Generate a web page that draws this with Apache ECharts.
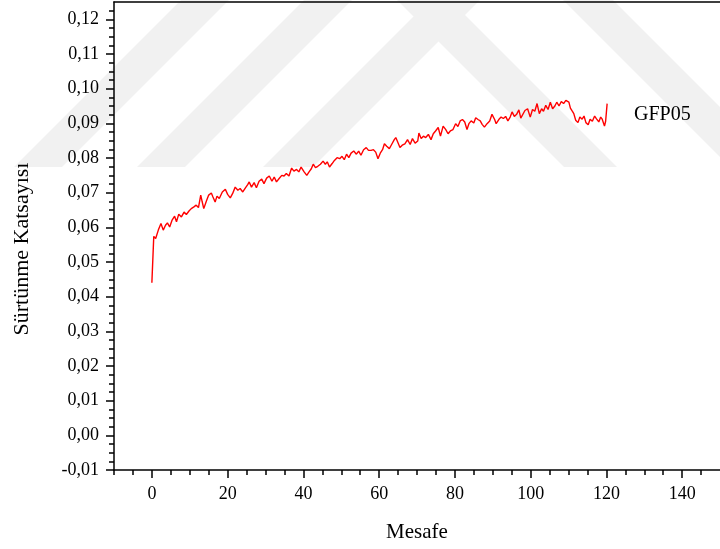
<!DOCTYPE html>
<html>
<head>
<meta charset="utf-8">
<script src="https://cdn.jsdelivr.net/npm/echarts@6/dist/echarts.min.js"></script>
<style>
  html, body { margin: 0; padding: 0; background: #fff; }
  #chart { width: 720px; height: 549px; }
</style>
</head>
<body>
<div id="chart"></div>
<script>
// Sliding distance (Mesafe) and friction coefficient (Sürtünme Katsayısı) for GFP05
const mesafe = [
  0, 0.5, 1.0, 1.7, 2.4, 3.0, 3.6, 4.1, 4.7, 5.3, 6.0, 6.5, 7.1, 7.8, 8.5, 9.1, 9.8,
  10.4, 11.1, 11.7, 12.3, 12.9, 13.3, 13.7, 14.4, 15.0, 15.7, 16.1, 16.7, 17.2, 17.8,
  18.6, 19.4, 20.0, 20.7, 21.3, 22.0, 22.7, 23.3, 24.0, 24.7, 25.3, 25.7, 26.3, 27.0,
  27.6, 28.3, 29.0, 29.6, 30.3, 31.0, 31.7, 32.3, 32.9, 33.6, 34.3, 34.9, 35.5, 36.2,
  36.9, 37.5, 38.2, 38.8, 39.4, 40.2, 40.9, 41.5, 42.1, 42.6, 43.2, 43.8, 44.5, 45.2,
  45.8, 46.3, 46.9, 47.6, 48.2, 48.9, 49.6, 50.2, 50.8, 51.4, 52.0, 52.6, 53.3, 54.0,
  54.6, 55.2, 55.9, 56.6, 57.2, 57.9, 58.5, 59.1, 59.7, 60.3, 60.9, 61.4, 62.0, 62.7,
  63.3, 64.0, 64.4, 64.9, 65.5, 66.1, 66.8, 67.5, 68.2, 68.8, 69.5, 70.2, 70.5, 71.1,
  71.7, 72.3, 73.0, 73.7, 74.3, 74.9, 75.6, 76.2, 76.9, 77.6, 78.2, 78.8, 79.5, 80.2,
  80.8, 81.4, 82.0, 82.6, 83.2, 83.7, 84.3, 85.0, 85.5, 86.1, 86.7, 87.2, 87.8, 88.5,
  89.2, 89.8, 90.5, 90.9, 91.6, 92.2, 92.8, 93.4, 94.0, 94.6, 95.1, 95.7, 96.3, 96.9,
  97.4, 97.9, 98.5, 99.2, 99.9, 100.5, 101.1, 101.7, 102.3, 102.9, 103.4, 104.0, 104.6,
  105.2, 105.8, 106.4, 106.9, 107.5, 108.1, 108.7, 109.3, 109.7, 110.1, 110.5, 111.0,
  111.4, 111.9, 112.5, 113.0, 113.6, 114.1, 114.6, 115.2, 115.7, 116.3, 116.9, 117.4,
  118.0, 118.5, 118.9, 119.5, 119.8, 120.2
];
const katsayi = [
  0.0440, 0.0574, 0.0568, 0.0592, 0.0611, 0.0592, 0.0606, 0.0613, 0.0601, 0.0620, 0.0632, 0.0616, 0.0638, 0.0630, 0.0644, 0.0637, 0.0647,
  0.0654, 0.0659, 0.0664, 0.0657, 0.0693, 0.0673, 0.0654, 0.0676, 0.0693, 0.0699, 0.0688, 0.0673, 0.0690, 0.0683,
  0.0702, 0.0710, 0.0695, 0.0685, 0.0697, 0.0716, 0.0707, 0.0712, 0.0702, 0.0714, 0.0723, 0.0731, 0.0716, 0.0729,
  0.0714, 0.0733, 0.0739, 0.0726, 0.0742, 0.0748, 0.0733, 0.0745, 0.0731, 0.0741, 0.0750, 0.0748, 0.0755, 0.0748,
  0.0771, 0.0762, 0.0767, 0.0760, 0.0774, 0.0760, 0.0750, 0.0760, 0.0769, 0.0782, 0.0772, 0.0776, 0.0782, 0.0791,
  0.0782, 0.0789, 0.0774, 0.0784, 0.0793, 0.0801, 0.0798, 0.0805, 0.0795, 0.0811, 0.0801, 0.0814, 0.0820, 0.0811,
  0.0820, 0.0808, 0.0824, 0.0830, 0.0822, 0.0822, 0.0824, 0.0817, 0.0798, 0.0814, 0.0824, 0.0841, 0.0834, 0.0827,
  0.0839, 0.0853, 0.0859, 0.0846, 0.0830, 0.0837, 0.0841, 0.0853, 0.0839, 0.0856, 0.0843, 0.0849, 0.0872, 0.0856,
  0.0863, 0.0859, 0.0868, 0.0853, 0.0870, 0.0878, 0.0888, 0.0863, 0.0892, 0.0882, 0.0870, 0.0878, 0.0882, 0.0899,
  0.0891, 0.0907, 0.0911, 0.0904, 0.0882, 0.0899, 0.0907, 0.0901, 0.0916, 0.0911, 0.0907, 0.0897, 0.0889, 0.0899,
  0.0907, 0.0926, 0.0911, 0.0899, 0.0911, 0.0918, 0.0914, 0.0920, 0.0907, 0.0918, 0.0933, 0.0920, 0.0926, 0.0939,
  0.0915, 0.0920, 0.0937, 0.0942, 0.0918, 0.0940, 0.0935, 0.0957, 0.0928, 0.0942, 0.0935, 0.0952, 0.0940,
  0.0961, 0.0942, 0.0950, 0.0961, 0.0950, 0.0963, 0.0957, 0.0966, 0.0971, 0.0961, 0.0944, 0.0935,
  0.0928, 0.0909, 0.0902, 0.0918, 0.0912, 0.0921, 0.0902, 0.0896, 0.0912, 0.0906, 0.0921, 0.0913,
  0.0904, 0.0918, 0.0912, 0.0892, 0.0906, 0.0957
];

// Axis ticks
const xMajorTicks = [0, 20, 40, 60, 80, 100, 120, 140];
const yMajorTicks = [-0.01, 0.00, 0.01, 0.02, 0.03, 0.04, 0.05, 0.06, 0.07, 0.08, 0.09, 0.10, 0.11, 0.12];
const X_MIN = -10, X_MAX = 150, Y_MIN = -0.01, Y_MAX = 0.125;

// Minor ticks: every 5 on x, every 0.0025 on y, skipping the major ones
const xMinorTicks = [];
for (let v = X_MIN; v < X_MAX; v += 5) {
  if (xMajorTicks.indexOf(v) < 0) xMinorTicks.push(v);
}
const yMinorTicks = [];
for (let k = -4; k <= 49; k++) {
  if (k % 4 !== 0) yMinorTicks.push(+(k * 0.0025).toFixed(4));
}

const FONT = "'Liberation Serif', 'Times New Roman', serif";
const axisColor = '#000';

function baseAxis(extra) {
  return Object.assign({
    type: 'value',
    splitLine: { show: false },
    axisLine: { show: false, onZero: false },
    axisTick: { show: false },
    axisLabel: { show: false }
  }, extra);
}

const chart = echarts.init(document.getElementById('chart'), null, { renderer: 'canvas' });

// Pale diagonal bands in the page background
const band = (pts) => ({
  type: 'polygon',
  z: -10,
  silent: true,
  shape: { points: pts },
  style: { fill: '#f1f1f1' }
});

chart.setOption({
  animation: false,
  backgroundColor: '#fff',
  graphic: {
    elements: [
      band([[14, 167], [62, 167], [229, 0], [181, 0]]),
      band([[137, 167], [185, 167], [352, 0], [304, 0]]),
      band([[263, 167], [313, 167], [480, 0], [430, 0]]),
      band([[397, 0], [450, 0], [617, 167], [564, 167]]),
      band([[563, 0], [613, 0], [780, 167], [730, 167]])
    ]
  },
  grid: { left: 114, right: -4, top: 2, bottom: 79, containLabel: false },
  legend: {
    left: 624,
    top: 100,
    icon: 'none',
    itemWidth: 0,
    itemHeight: 0,
    data: ['GFP05'],
    textStyle: { fontFamily: FONT, fontSize: 20, color: '#000' }
  },
  xAxis: [
    baseAxis({
      min: X_MIN, max: X_MAX, position: 'bottom',
      name: 'Mesafe',
      nameLocation: 'middle',
      nameGap: 52,
      nameTextStyle: { fontFamily: FONT, fontSize: 21, color: '#000' },
      axisLine: { show: true, onZero: false, lineStyle: { color: axisColor, width: 1.5 } },
      axisTick: { show: true, customValues: xMajorTicks, length: 8, lineStyle: { color: axisColor, width: 1.5 } },
      axisLabel: {
        show: true, customValues: xMajorTicks, margin: 15,
        fontFamily: FONT, fontSize: 18, color: '#000'
      }
    }),
    baseAxis({
      min: X_MIN, max: X_MAX, position: 'bottom',
      axisTick: { show: true, customValues: xMinorTicks, length: 5, lineStyle: { color: axisColor, width: 1.5 } }
    }),
    baseAxis({
      min: X_MIN, max: X_MAX, position: 'top',
      axisLine: { show: true, onZero: false, lineStyle: { color: axisColor, width: 1.5 } }
    })
  ],
  yAxis: [
    baseAxis({
      min: Y_MIN, max: Y_MAX, position: 'left',
      name: 'Sürtünme Katsayısı',
      nameLocation: 'middle',
      nameGap: 81,
      nameTextStyle: { fontFamily: FONT, fontSize: 22, color: '#000', padding: [0, 26, 0, 0] },
      axisLine: { show: true, onZero: false, lineStyle: { color: axisColor, width: 1.5 } },
      axisTick: { show: true, customValues: yMajorTicks, length: 8, lineStyle: { color: axisColor, width: 1.5 } },
      axisLabel: {
        show: true, customValues: yMajorTicks, margin: 15,
        fontFamily: FONT, fontSize: 18, color: '#000',
        formatter: (v) => v.toFixed(2).replace('.', ',')
      }
    }),
    baseAxis({
      min: Y_MIN, max: Y_MAX, position: 'left',
      axisTick: { show: true, customValues: yMinorTicks, length: 5, lineStyle: { color: axisColor, width: 1.5 } }
    })
  ],
  series: [{
    name: 'GFP05',
    type: 'line',
    xAxisIndex: 0,
    yAxisIndex: 0,
    showSymbol: false,
    symbol: 'none',
    lineStyle: { color: '#ff0000', width: 1.4 },
    itemStyle: { color: '#ff0000' },
    data: mesafe.map((x, i) => [x, katsayi[i]])
  }]
});
</script>
</body>
</html>
